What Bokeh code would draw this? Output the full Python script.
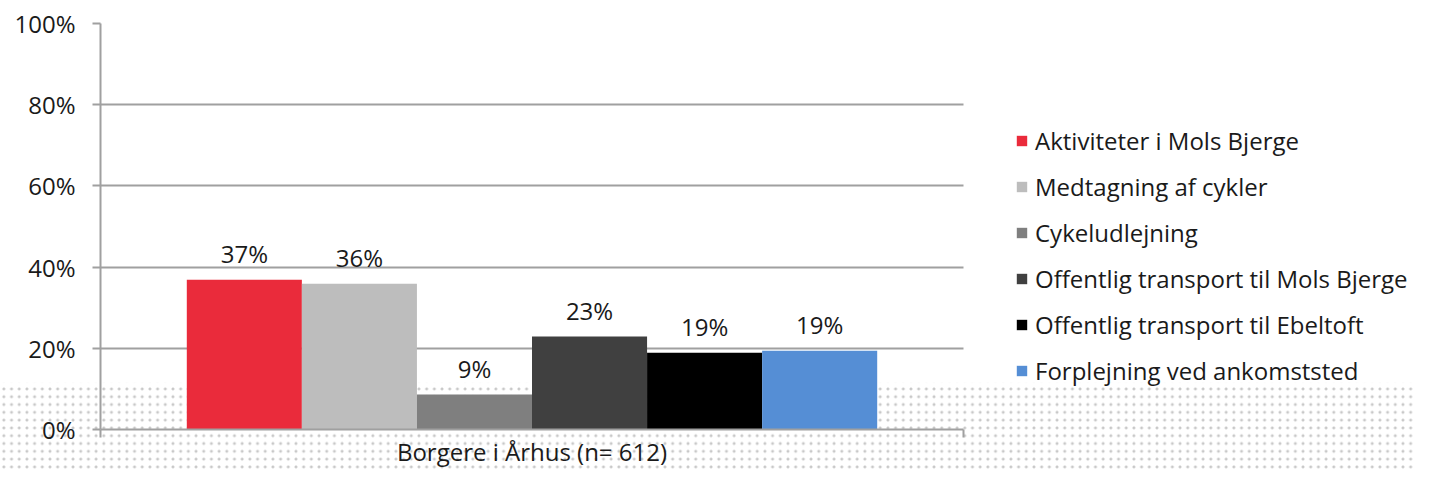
from bokeh.plotting import figure
from bokeh.models import (ColumnDataSource, Range1d, FixedTicker, PrintfTickFormatter,
                          Legend, LegendItem, LabelSet)
from bokeh.core.properties import value
from bokeh.embed import file_html
from bokeh.resources import INLINE

category = ["Borgere i Århus (n= 612)"]
series = ["Aktiviteter i Mols Bjerge", "Medtagning af cykler", "Cykeludlejning",
          "Offentlig transport til Mols Bjerge", "Offentlig transport til Ebeltoft",
          "Forplejning ved ankomststed"]
values = [36.9, 35.9, 8.6, 22.9, 18.9, 19.4]
labels = ["37%", "36%", "9%", "23%", "19%", "19%"]
colors = ["#EA2B3B", "#BDBDBD", "#7F7F7F", "#404040", "#000000", "#558ED5"]
y_ticks = [0, 20, 40, 60, 80, 100]

FONT = "Open Sans"
TXT = "#1a1a1a"
GRID = "#a0a0a0"

W, H = 1414, 470
LEFT, TOP, BOTTOM = 100, 23, 41
PLOT_W = 863  # width of the bar area; legend sits to its right inside the frame
x_end = (W - LEFT) / PLOT_W

p = figure(width=W, height=H, x_range=Range1d(0, x_end), y_range=Range1d(0, 100),
           output_backend="svg", toolbar_location=None,
           min_border_left=LEFT, min_border_right=0, min_border_top=TOP,
           min_border_bottom=BOTTOM)
p.outline_line_color = None
p.background_fill_alpha = 0
p.border_fill_alpha = 0
# dotted page decoration behind the transparent canvas
p.styles = {
    "background-color": "#ffffff",
    "background-image": ("linear-gradient(to bottom, #ffffff 0px, #ffffff 382px, "
                         "rgba(255,255,255,0) 386px), "
                         "radial-gradient(circle, #c8c8c8 1.1px, rgba(255,255,255,0) 1.8px)"),
    "background-size": "100% 100%, 7.7px 7.8px",
    "background-position": "0 0, 0 3px",
}

n = len(series)
group = 0.8
w = group / n
src_x = [0.5 - group / 2 + (i + 0.5) * w for i in range(n)]

items = []
for i in range(n):
    src = ColumnDataSource(dict(x=[src_x[i]], top=[values[i]], lab=[labels[i]]))
    r = p.vbar(x="x", top="top", bottom=0, width=w, source=src,
               fill_color=colors[i], line_color=None)
    items.append(LegendItem(label=series[i], renderers=[r]))
    p.add_layout(LabelSet(x="x", y="top", text="lab", source=src, y_offset=17,
                          text_align="center", text_baseline="alphabetic",
                          text_font=value(FONT), text_font_size=value("24px"),
                          text_color=value(TXT)))

# y axis
p.yaxis.ticker = FixedTicker(ticks=y_ticks)
p.yaxis.formatter = PrintfTickFormatter(format="%d%%")
p.yaxis.major_label_text_font = FONT
p.yaxis.major_label_text_font_size = "24px"
p.yaxis.major_label_text_color = TXT
p.yaxis.major_label_standoff = 17
p.yaxis.major_tick_out = 8
p.yaxis.major_tick_in = 0
p.yaxis.minor_tick_line_color = None
p.yaxis.axis_line_color = GRID
p.yaxis.axis_line_width = 2
p.yaxis.major_tick_line_color = GRID
p.yaxis.major_tick_line_width = 2

# x axis: category name as the single label, end ticks at the category bounds
p.xaxis.bounds = (0, 1)
p.xaxis.ticker = FixedTicker(ticks=[0.5], minor_ticks=[0, 1])
p.xaxis.major_label_overrides = {0.5: category[0]}
p.xaxis.major_label_text_font = FONT
p.xaxis.major_label_text_font_size = "24px"
p.xaxis.major_label_text_color = TXT
p.xaxis.major_label_standoff = -3
p.xaxis.major_tick_line_color = None
p.xaxis.major_tick_out = 0
p.xaxis.major_tick_in = 0
p.xaxis.minor_tick_out = 8
p.xaxis.minor_tick_in = 0
p.xaxis.minor_tick_line_color = GRID
p.xaxis.minor_tick_line_width = 2
p.xaxis.axis_line_color = GRID
p.xaxis.axis_line_width = 2

p.xgrid.grid_line_color = None
p.ygrid.ticker = FixedTicker(ticks=y_ticks)
p.ygrid.grid_line_color = GRID
p.ygrid.grid_line_width = 2
try:
    p.ygrid.cross_bounds = (0, 1)
except Exception:
    p.ygrid.grid_line_color = None
    p.segment(x0=0, x1=1, y0=y_ticks, y1=y_ticks, line_color=GRID, line_width=2,
              level="underlay")

legend = Legend(items=items, location=(915, 42), orientation="vertical",
                padding=0, margin=0, spacing=13, glyph_width=13, glyph_height=13,
                label_height=26, label_standoff=7, label_text_font=FONT,
                label_text_font_size="24px", label_text_color=TXT,
                border_line_alpha=0, background_fill_alpha=0)
p.add_layout(legend)

open("out.html", "w").write(file_html(p, INLINE))
